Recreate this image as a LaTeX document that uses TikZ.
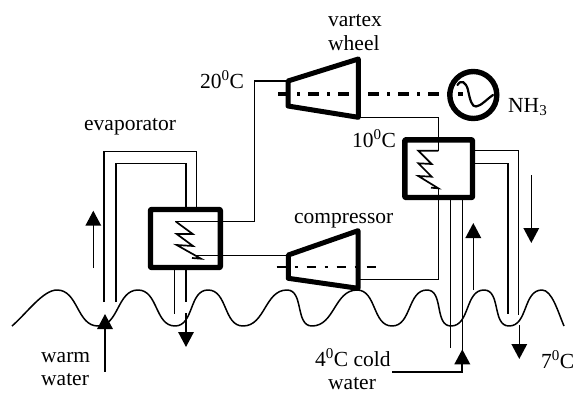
\documentclass[tikz,border=0pt]{standalone}
\usepackage{fontspec}
\setmainfont{Liberation Serif}
\usetikzlibrary{arrows.meta}
\tikzset{
  pipe/.style={line width=1.5pt,line cap=butt,line join=miter},
  heavy/.style={line width=5.4pt,line join=round},
  machine/.style={line width=5pt,line join=round},
  coil/.style={line width=1.7pt,line join=miter},
  flow/.style={line width=1.6pt,-{Triangle[length=15pt,width=15.5pt]}},
  lbl/.style={anchor=base west,inner sep=0pt,font=\fontsize{21.5pt}{24pt}\selectfont},
  wavy/.style={line width=1.5pt,line join=round}
}
\newcommand{\degs}{\textsuperscript{0}}
\begin{document}
\begin{tikzpicture}[x=1pt,y=-1pt]
\useasboundingbox (0,0) rectangle (574,394);
% wave
\draw[wavy] (12,326) .. controls (27,313) and (43,290) .. (57,290)
 to[out=0,in=180] (98,326) to[out=0,in=180] (138,290) to[out=0,in=180] (175,326)
 to[out=0,in=180] (208,290) to[out=0,in=180] (243,326) to[out=0,in=180] (287,290)
 to[out=0,in=180] (312,326) to[out=0,in=180] (357,290) to[out=0,in=180] (392,326)
 to[out=0,in=180] (427,290) to[out=0,in=180] (451,326) to[out=0,in=180] (484,290)
 to[out=0,in=180] (509,326) to[out=0,in=180] (542,290) .. controls (552,290) and (558,312) .. (564,326);
% evaporator pipes
\draw[pipe] (104,302) -- (104,151.7) -- (196.3,151.7) -- (196.3,210);
\draw[pipe] (116,302) -- (116,163.7) -- (186,163.7) -- (186,210);
\draw[pipe] (174.3,267) -- (174.3,314);
\draw[pipe] (186,267) -- (186,302);
% condenser pipes
\draw[pipe] (472,150.7) -- (518.6,150.7) -- (518.6,315);
\draw[pipe] (472,163.3) -- (508.2,163.3) -- (508.2,314);
\draw[pipe] (450.3,197) -- (450.3,348);
\draw[pipe] (462.3,197) -- (462.3,350);
% refrigerant lines
\draw[pipe] (175,221.7) -- (254.5,221.7) -- (254.5,81) -- (288,81);
\draw[pipe] (195,255.3) -- (288,255.3);
\draw[pipe] (358,117.3) -- (438.3,117.3) -- (438.3,150.7);
\draw[pipe] (358,279.5) -- (438.3,279.5) -- (438.3,188);
% boxes
\draw[heavy,rounded corners=0.8pt] (150.5,209.5) rectangle (220.3,267.5);
\draw[heavy,rounded corners=0.8pt] (404.8,139.8) rectangle (472.5,197.5);
% coils
\draw[coil] (176,221.7) -- (192.7,234) -- (176.7,234) -- (193,246) -- (176.7,245) -- (201,258.7) -- (192,258);
\draw[coil] (438.3,150.7) -- (418.3,150.7) -- (431.7,164) -- (418.3,163.3) -- (431.7,176.7) -- (418.3,176) -- (438.3,188.3) -- (431,187.7);
% machines
\draw[machine] (288,81) -- (358.3,59) -- (358.3,117.3) -- (288,106) -- cycle;
\draw[machine] (288.3,255) -- (358,230.7) -- (358,288.3) -- (288.3,278.3) -- cycle;
% shafts
\draw[line width=3.2pt,dash pattern=on 11pt off 8pt on 3pt off 8pt] (278,94) -- (463,94);
\draw[line width=1.6pt,dash pattern=on 9pt off 9pt on 3pt off 9pt] (276.7,266.7) -- (382,266.7);
% generator
\draw[line width=5.4pt] (473.3,95) circle (23.5pt);
\draw[line width=2.2pt,line cap=round] (457.5,85) .. controls (461,79) and (466,82) .. (468,90) .. controls (470,100) and (472,107) .. (476,106.5) .. controls (481,106) and (487,99) .. (493,95);
% flow arrows
\draw[flow] (93.3,268) -- (93.3,210.7);
\draw[flow] (105,371.7) -- (105,314);
\draw[flow] (186,313) -- (186,347);
\draw[flow] (473.3,290) -- (473.3,223);
\draw[flow] (531.3,175) -- (531.3,243);
\draw[flow] (519.3,325) -- (519.3,359);
\draw[flow,line width=1.9pt] (392.3,371.7) -- (462.3,371.7) -- (462.3,349.3);
% labels
\node[lbl] (levap) at (84,130) {evaporator};
\node[lbl] (lvar) at (328,26) {vartex};
\node[lbl] (lwheel) at (328,50) {wheel};
\node[lbl] (l20) at (200,88) {20\degs C};
\node[lbl] (lnh) at (508,112) {NH\textsubscript{3}};
\node[lbl] (l10) at (352,147) {10\degs C};
\node[lbl] (lcomp) at (294,223) {compressor};
\node[lbl] (lwarm) at (41,362) {warm};
\node[lbl] (lwater) at (41,385) {water};
\node[lbl] (lcold) at (315,366) {4\degs C cold};
\node[lbl] (lwater2) at (328,389) {water};
\node[lbl] (l7) at (541,368) {7\degs C};
\end{tikzpicture}
\end{document}
